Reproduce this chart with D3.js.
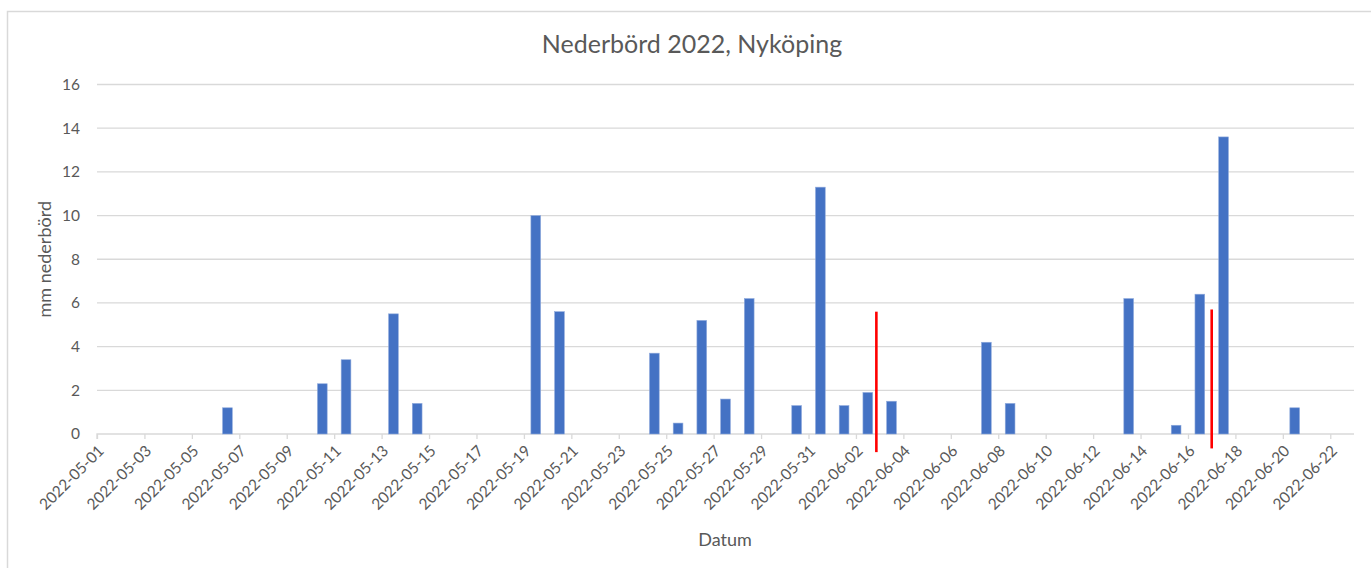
<!DOCTYPE html>
<html lang="sv">
<head>
    <meta charset="UTF-8">
    <title>Nederbörd 2022, Nyköping</title>
    <script src="https://d3js.org/d3.v7.min.js"></script>
    <style>
        body { margin: 0; background: #fff; }
        text { font-family: Lato, "Open Sans", sans-serif; fill: #595959; }
    </style>
</head>
<body>
    <div class="chart"></div>
    <script>
        // datum med nederbörd (mm)
        const dates = ["2022-05-06", "2022-05-10", "2022-05-11", "2022-05-13", "2022-05-14",
            "2022-05-19", "2022-05-20", "2022-05-24", "2022-05-25", "2022-05-26", "2022-05-27",
            "2022-05-28", "2022-05-30", "2022-05-31", "2022-06-01", "2022-06-02", "2022-06-03",
            "2022-06-07", "2022-06-08", "2022-06-13", "2022-06-15", "2022-06-16", "2022-06-17",
            "2022-06-20"];
        const rain = [1.2, 2.3, 3.4, 5.5, 1.4,
            10.0, 5.6, 3.7, 0.5, 5.2, 1.6,
            6.2, 1.3, 11.3, 1.3, 1.9, 1.5,
            4.2, 1.4, 6.2, 0.4, 6.4, 13.6,
            1.2];
        const yTicks = [0, 2, 4, 6, 8, 10, 12, 14, 16];
        // röda markeringar (tidpunkt, övre och undre värde)
        const markTimes = ["2022-06-02T20:40", "2022-06-17T00:00"];
        const markTop = [5.6, 5.7];
        const markBottom = [-0.83, -0.66];

        const width = 1371;
        const height = 568;
        const margin = { top: 84.5, right: 17, bottom: 134, left: 97 };

        const parse = d3.timeParse("%Y-%m-%d");
        const parseT = d3.timeParse("%Y-%m-%dT%H:%M");
        const fmt = d3.timeFormat("%Y-%m-%d");

        const start = parse("2022-05-01");
        const end = parse("2022-06-23");

        const x = d3.scaleTime()
            .domain([start, end])
            .range([margin.left, width - margin.right]);

        const y = d3.scaleLinear()
            .domain([0, 16])
            .range([height - margin.bottom, margin.top]);

        const dayW = x(d3.timeDay.offset(start, 1)) - x(start);
        const barW = dayW * 0.41;

        const svg = d3.select('.chart')
            .append('svg')
            .attr('width', width)
            .attr('height', height);

        // ram
        svg.append('path')
            .attr('d', `M7.5,${height} V11.5 H${width}`)
            .attr('fill', 'none')
            .attr('stroke', '#d9d9d9')
            .attr('stroke-width', 1.5);

        // stödlinjer
        svg.selectAll('.grid')
            .data(yTicks.slice(1))
            .enter()
            .append('line')
            .attr('x1', margin.left)
            .attr('x2', width - margin.right)
            .attr('y1', d => y(d))
            .attr('y2', d => y(d))
            .attr('stroke', '#d9d9d9')
            .attr('stroke-width', 1.3);

        svg.selectAll('.ylab')
            .data(yTicks)
            .enter()
            .append('text')
            .attr('x', 80)
            .attr('y', d => y(d))
            .attr('dy', '0.35em')
            .attr('text-anchor', 'end')
            .style('font-size', '15.5px')
            .text(d => d);

        // x-axel
        const xTicks = d3.timeDay.range(start, d3.timeDay.offset(end, 1), 2);
        const xAxis = svg.append('g')
            .attr('transform', `translate(0,${y(0)})`)
            .call(d3.axisBottom(x).tickValues(xTicks).tickSize(5).tickFormat(''));
        xAxis.select('.domain').attr('stroke', '#d9d9d9').attr('stroke-width', 1.3)
            .attr('d', `M${margin.left},5V0H${width - margin.right}`);
        xAxis.selectAll('.tick line').attr('stroke', '#d9d9d9').attr('stroke-width', 1.3);

        svg.selectAll('.xlab')
            .data(xTicks)
            .enter()
            .append('text')
            .attr('transform', d => `translate(${x(d) + 4},${y(0) + 14}) rotate(-45)`)
            .attr('text-anchor', 'end')
            .attr('dy', '0.35em')
            .style('font-size', '15.5px')
            .text(d => fmt(d));

        // staplar
        svg.selectAll('.bar')
            .data(dates)
            .enter()
            .append('rect')
            .attr('x', d => x(parse(d)) + dayW / 2 - barW / 2)
            .attr('y', (d, i) => y(rain[i]))
            .attr('width', barW)
            .attr('height', (d, i) => y(0) - y(rain[i]))
            .attr('fill', '#4472c4')
            .attr('stroke', '#8faadc')
            .attr('stroke-width', 0.6);

        // röda linjer
        svg.selectAll('.mark')
            .data(markTimes)
            .enter()
            .append('line')
            .attr('x1', d => x(parseT(d)))
            .attr('x2', d => x(parseT(d)))
            .attr('y1', (d, i) => y(markTop[i]))
            .attr('y2', (d, i) => y(markBottom[i]))
            .attr('stroke', '#ff0000')
            .attr('stroke-width', 2.6);

        // titlar
        svg.append('text')
            .attr('x', 692)
            .attr('y', 53)
            .attr('text-anchor', 'middle')
            .style('font-size', '25px')
            .text('Nederbörd 2022, Nyköping');

        svg.append('text')
            .attr('transform', `translate(51,${(y(0) + y(16)) / 2}) rotate(-90)`)
            .attr('text-anchor', 'middle')
            .style('font-size', '18px')
            .text('mm nederbörd');

        svg.append('text')
            .attr('x', 725)
            .attr('y', 546)
            .attr('text-anchor', 'middle')
            .style('font-size', '18px')
            .text('Datum');
    </script>
</body>
</html>
